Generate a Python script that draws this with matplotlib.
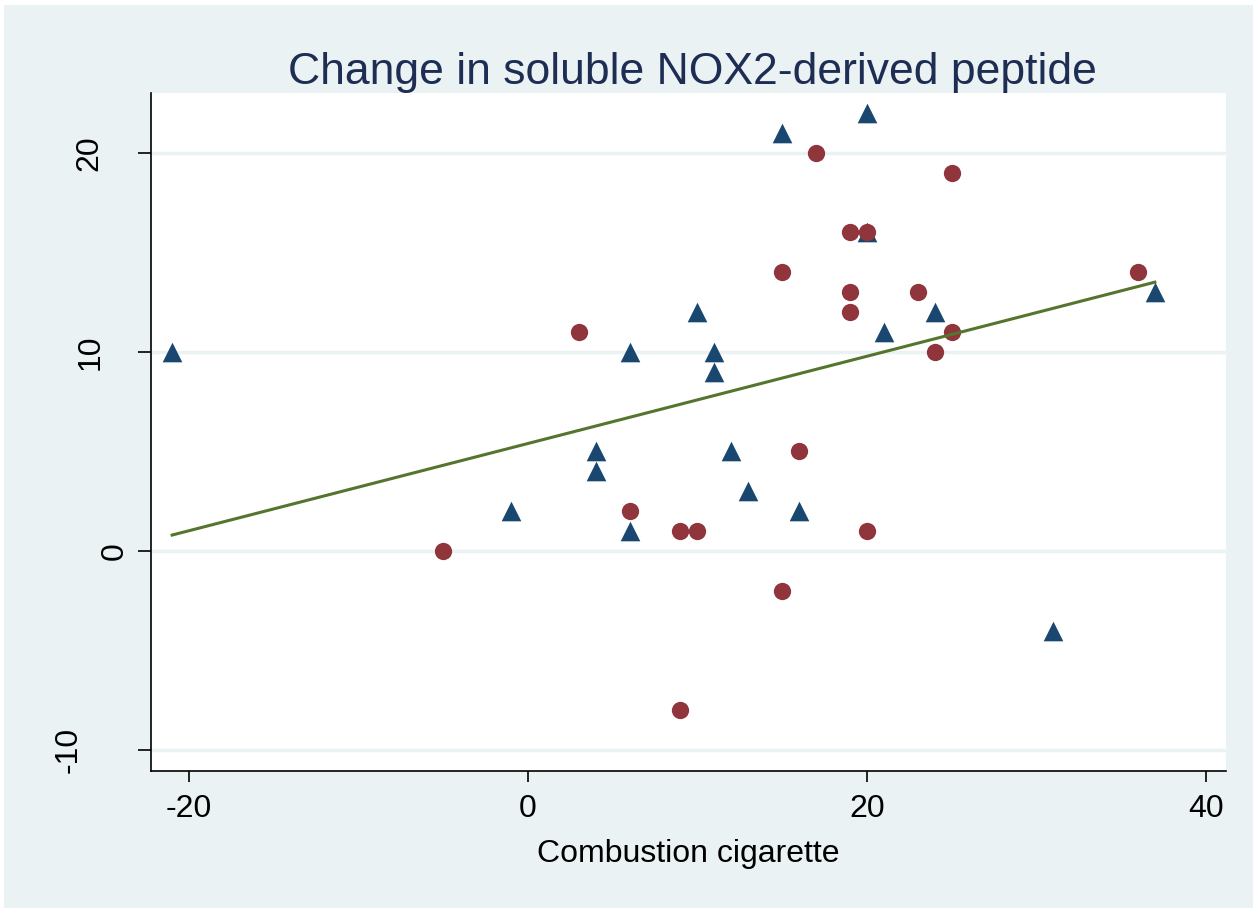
import matplotlib.pyplot as plt
import matplotlib.transforms as mtransforms
from matplotlib.patches import Rectangle

plt.rcParams['font.family'] = ['Liberation Sans', 'DejaVu Sans']
plt.rcParams['axes.unicode_minus'] = False

# Triangles (blue)
tri_x = [-21, -1, 4, 4, 6, 6, 10, 11, 11, 12, 13, 15, 16, 20, 20, 21, 24, 31, 37]
tri_y = [10, 2, 5, 4, 10, 1, 12, 10, 9, 5, 3, 21, 2, 22, 16, 11, 12, -4, 13]

# Circles (red)
circ_x = [-5, 3, 6, 9, 10, 9, 15, 15, 16, 17, 19, 20, 19, 19, 20, 23, 24, 25, 25, 36]
circ_y = [0, 11, 2, 1, 1, -8, 14, -2, 5, 20, 16, 16, 13, 12, 1, 13, 10, 19, 11, 14]

# Fitted line, endpoints
fit_x = [-21, 37]
fit_y = [0.8, 13.5]

x_ticks = [-20, 0, 20, 40]
y_ticks = [-10, 0, 10, 20]

bg = '#eaf2f3'
W, H = 1258, 913
fig = plt.figure(figsize=(W / 100, H / 100), dpi=100, facecolor='white')
fig.patches.append(Rectangle((4 / W, 5 / H), 1249 / W, 903 / H,
                             transform=fig.transFigure, facecolor=bg,
                             edgecolor='none', zorder=-10))

ax = fig.add_axes([151 / W, 1 - 771 / H, 1075 / W, 678 / H])
ax.set_facecolor('white')

ax.scatter(tri_x, tri_y, marker='^', s=200, color='#1a476f', zorder=3, linewidths=0)
ax.scatter(circ_x, circ_y, marker='o', s=155, color='#90353b', zorder=4, linewidths=0)
ax.plot(fit_x, fit_y, color='#55752f', lw=2.2, zorder=5)

ax.set_xlim(-22.25, 41.2)
ax.set_ylim(-11.05, 23.0)
ax.set_xticks(x_ticks)
ax.set_yticks(y_ticks)
ax.set_yticklabels([])

# y labels: rotated, Stata-style placement (pixel x centres)
ylab_x = {20: 89, 10: 91, 0: 115, -10: 69}
trans = mtransforms.blended_transform_factory(fig.transFigure, ax.transData)
for v in y_ticks:
    ax.text(ylab_x[v] / W, v, str(v), transform=trans, rotation=90,
            ha='center', va='center', fontsize=23, clip_on=False)

for v in y_ticks:
    ax.axhline(v, color=bg, lw=2.5, zorder=1)

for s in ['top', 'right']:
    ax.spines[s].set_visible(False)
for s in ['left', 'bottom']:
    ax.spines[s].set_color('black')
    ax.spines[s].set_linewidth(1.2)

ax.tick_params(axis='x', direction='out', length=8, width=1.2,
               labelsize=23, colors='black', pad=8.5)
ax.tick_params(axis='y', direction='out', length=9.5, width=1.2)

ax.set_xlabel('Combustion cigarette', fontsize=23, labelpad=11)
ax.set_title('Change in soluble NOX2-derived peptide', fontsize=32,
             color='#1e2d53', pad=5, x=0.504)

fig.savefig('out.png', dpi=100, facecolor=fig.get_facecolor())
